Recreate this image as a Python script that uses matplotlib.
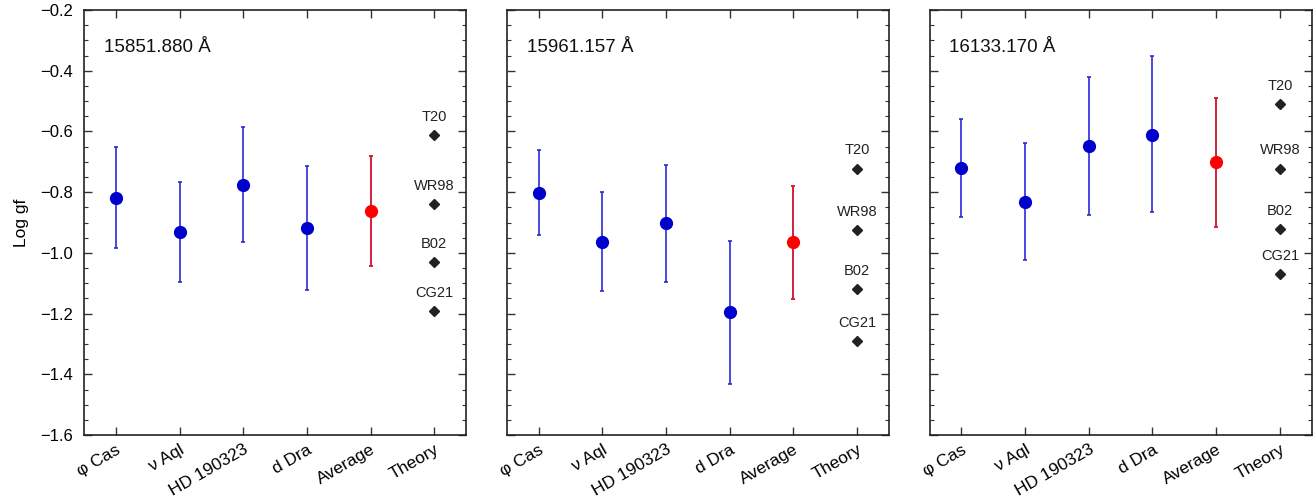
import numpy as np
import matplotlib
matplotlib.use("Agg")
import matplotlib.pyplot as plt
from matplotlib.ticker import MultipleLocator

plt.rcParams['font.family'] = ['Liberation Sans', 'DejaVu Sans']

# Kategorien
stars = ["\u03c6 Cas", "\u03bd Aql", "HD 190323", "d Dra", "Average", "Theory"]
wavelengths = ["15851.880 \u00c5", "15961.157 \u00c5", "16133.170 \u00c5"]
theory_names = ["T20", "WR98", "B02", "CG21"]

# Messwerte pro Linie (4 Sterne + Mittelwert)
val_1 = [-0.819, -0.931, -0.776, -0.918, -0.861]
hi_1 = [-0.652, -0.767, -0.585, -0.713, -0.680]
lo_1 = [-0.984, -1.095, -0.965, -1.121, -1.042]
theo_1 = [-0.613, -0.838, -1.030, -1.190]

val_2 = [-0.802, -0.963, -0.903, -1.196, -0.965]
hi_2 = [-0.661, -0.799, -0.711, -0.960, -0.779]
lo_2 = [-0.942, -1.127, -1.095, -1.431, -1.151]
theo_2 = [-0.722, -0.926, -1.120, -1.290]

val_3 = [-0.720, -0.831, -0.648, -0.610, -0.702]
hi_3 = [-0.558, -0.637, -0.421, -0.350, -0.490]
lo_3 = [-0.881, -1.023, -0.874, -0.866, -0.915]
theo_3 = [-0.509, -0.722, -0.920, -1.070]

panels = [(val_1, hi_1, lo_1, theo_1),
          (val_2, hi_2, lo_2, theo_2),
          (val_3, hi_3, lo_3, theo_3)]

fig = plt.figure(figsize=(13.13, 5.03), dpi=100)
lefts = [0.064, 0.386, 0.708]
width = 0.291
bottom, height = 0.135, 0.845

for k, (val, hi, lo, theo) in enumerate(panels):
    ax = fig.add_axes([lefts[k], bottom, width, height])
    val = np.array(val)
    err = np.array([val - np.array(lo), np.array(hi) - val])
    x = np.arange(4)
    # Einzelsterne
    ax.errorbar(x, val[:4], yerr=err[:, :4], fmt='none', ecolor='#2a2ad8',
                elinewidth=1.2, capsize=1.7, capthick=1.2, zorder=2)
    ax.plot(x, val[:4], 'o', color='#0000cc', markersize=8.5, zorder=3)
    # Mittelwert
    ax.errorbar([4], val[4:], yerr=err[:, 4:], fmt='none', ecolor='#d0203a',
                elinewidth=1.4, capsize=1.7, capthick=1.4, zorder=2)
    ax.plot([4], val[4:], 'o', color='#ff0000', markersize=8.5, zorder=3)
    # Theorie
    ax.plot([5] * len(theo), theo, 'D', color='#222222', markersize=5.5, zorder=3)
    for name, t in zip(theory_names, theo):
        ax.annotate(name, (5, t), xytext=(0, 8), textcoords='offset points',
                    ha='center', va='bottom', fontsize=10.5, color='#222222')

    ax.text(0.052, 0.913, wavelengths[k], transform=ax.transAxes,
            fontsize=13.5, va='center', ha='left', color='#111111')

    ax.set_xlim(-0.5, 5.5)
    ax.set_ylim(-1.6, -0.2)
    ax.set_xticks(range(6))
    ax.set_xticklabels(stars, rotation=30, ha='right', rotation_mode='anchor',
                       fontsize=12.5)
    ax.yaxis.set_major_locator(MultipleLocator(0.2))
    ax.yaxis.set_minor_locator(MultipleLocator(0.05))
    ax.tick_params(which='both', direction='in', top=True, right=True,
                   color='#333333')
    ax.tick_params(which='major', length=6, width=1.0, labelsize=12)
    ax.tick_params(axis='y', which='major', pad=8)
    ax.tick_params(axis='x', which='major', pad=5, labelsize=12.5)
    ax.tick_params(which='minor', length=3, width=0.8)
    ax.tick_params(axis='x', which='minor', bottom=False, top=False)
    for s in ax.spines.values():
        s.set_linewidth(1.2)
        s.set_color('#222222')
    if k == 0:
        ax.set_ylabel("Log gf", fontsize=12.5, labelpad=8)
        ax.set_yticklabels([f"{v:.1f}".replace('-', '\u2212')
                            for v in ax.get_yticks()])
    else:
        ax.set_yticklabels([])

fig.savefig("out.png", dpi=100)
